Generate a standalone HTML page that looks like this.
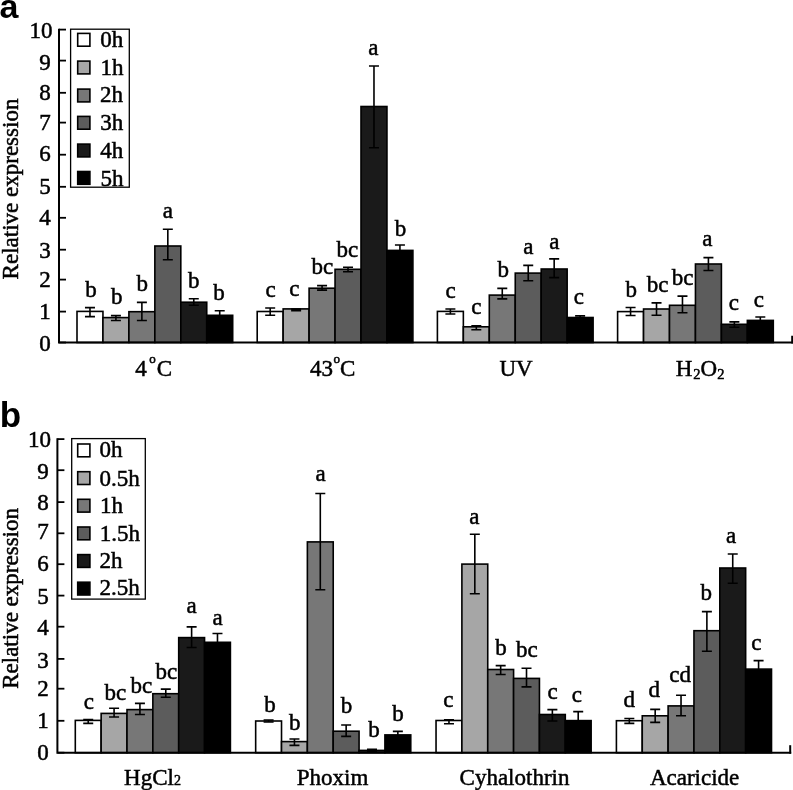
<!DOCTYPE html>
<html><head><meta charset="utf-8"><style>
html,body{margin:0;padding:0;background:#fff;overflow:hidden;}
svg{display:block;will-change:transform;}
text{font-family:"Liberation Serif",serif;fill:#000;stroke:#000;stroke-width:0.5px;font-size:23px;}
.yl{font-size:23px;}
.pl{font-family:"Liberation Sans",sans-serif;font-weight:bold;font-size:34px;stroke:none;}
</style></head><body>
<svg width="793" height="790" viewBox="0 0 793 790">
<rect x="77" y="311.4" width="25.95" height="31.1" fill="#ffffff" stroke="#000" stroke-width="1.6"/>
<rect x="102.95" y="317.6" width="25.95" height="24.9" fill="#a6a6a6" stroke="#000" stroke-width="1.6"/>
<rect x="128.9" y="311.7" width="25.95" height="30.8" fill="#777777" stroke="#000" stroke-width="1.6"/>
<rect x="154.85" y="246" width="25.95" height="96.5" fill="#5c5c5c" stroke="#000" stroke-width="1.6"/>
<rect x="180.8" y="302.2" width="25.95" height="40.3" fill="#1a1a1a" stroke="#000" stroke-width="1.6"/>
<rect x="206.75" y="315.3" width="25.95" height="27.2" fill="#000000" stroke="#000" stroke-width="1.6"/>
<rect x="257.2" y="311.5" width="25.95" height="31" fill="#ffffff" stroke="#000" stroke-width="1.6"/>
<rect x="283.15" y="308.9" width="25.95" height="33.6" fill="#a6a6a6" stroke="#000" stroke-width="1.6"/>
<rect x="309.1" y="288.2" width="25.95" height="54.3" fill="#777777" stroke="#000" stroke-width="1.6"/>
<rect x="335.05" y="269.3" width="25.95" height="73.2" fill="#5c5c5c" stroke="#000" stroke-width="1.6"/>
<rect x="361" y="106.5" width="25.95" height="236" fill="#1a1a1a" stroke="#000" stroke-width="1.6"/>
<rect x="386.95" y="250.4" width="25.95" height="92.1" fill="#000000" stroke="#000" stroke-width="1.6"/>
<rect x="437.4" y="311.4" width="25.95" height="31.1" fill="#ffffff" stroke="#000" stroke-width="1.6"/>
<rect x="463.35" y="326.8" width="25.95" height="15.7" fill="#a6a6a6" stroke="#000" stroke-width="1.6"/>
<rect x="489.3" y="295.1" width="25.95" height="47.4" fill="#777777" stroke="#000" stroke-width="1.6"/>
<rect x="515.25" y="273.1" width="25.95" height="69.4" fill="#5c5c5c" stroke="#000" stroke-width="1.6"/>
<rect x="541.2" y="269" width="25.95" height="73.5" fill="#1a1a1a" stroke="#000" stroke-width="1.6"/>
<rect x="567.15" y="317.5" width="25.95" height="25" fill="#000000" stroke="#000" stroke-width="1.6"/>
<rect x="617.6" y="311.6" width="25.95" height="30.9" fill="#ffffff" stroke="#000" stroke-width="1.6"/>
<rect x="643.55" y="309" width="25.95" height="33.5" fill="#a6a6a6" stroke="#000" stroke-width="1.6"/>
<rect x="669.5" y="305.3" width="25.95" height="37.2" fill="#777777" stroke="#000" stroke-width="1.6"/>
<rect x="695.45" y="264" width="25.95" height="78.5" fill="#5c5c5c" stroke="#000" stroke-width="1.6"/>
<rect x="721.4" y="324.3" width="25.95" height="18.2" fill="#1a1a1a" stroke="#000" stroke-width="1.6"/>
<rect x="747.35" y="320.4" width="25.95" height="22.1" fill="#000000" stroke="#000" stroke-width="1.6"/>
<path d="M89.97 307.6V316.6M84.97 307.6H94.97M84.97 316.6H94.97" stroke="#000" stroke-width="1.6" fill="none"/>
<text x="85.22" y="297.35" class="lb">b</text>
<path d="M115.92 315.6V320.5M110.92 315.6H120.92M110.92 320.5H120.92" stroke="#000" stroke-width="1.6" fill="none"/>
<text x="110.92" y="303.95" class="lb">b</text>
<path d="M141.88 302.4V320.5M136.88 302.4H146.88M136.88 320.5H146.88" stroke="#000" stroke-width="1.6" fill="none"/>
<text x="136.42" y="291.35" class="lb">b</text>
<path d="M167.82 229.2V259.8M162.82 229.2H172.82M162.82 259.8H172.82" stroke="#000" stroke-width="1.6" fill="none"/>
<text x="162.68" y="217.65" class="lb">a</text>
<path d="M193.78 298.7V305.2M188.78 298.7H198.78M188.78 305.2H198.78" stroke="#000" stroke-width="1.6" fill="none"/>
<text x="188.02" y="288.45" class="lb">b</text>
<path d="M219.72 310.8V320M214.72 310.8H224.72M214.72 320H224.72" stroke="#000" stroke-width="1.6" fill="none"/>
<text x="213.32" y="300.25" class="lb">b</text>
<path d="M270.18 308V315.3M265.18 308H275.18M265.18 315.3H275.18" stroke="#000" stroke-width="1.6" fill="none"/>
<text x="265.55" y="297.05" class="lb">c</text>
<path d="M296.12 309V310.6M291.12 309H301.12M291.12 310.6H301.12" stroke="#000" stroke-width="1.6" fill="none"/>
<text x="289.35" y="296.25" class="lb">c</text>
<path d="M322.07 285.6V290.1M317.07 285.6H327.07M317.07 290.1H327.07" stroke="#000" stroke-width="1.6" fill="none"/>
<text x="311.42" y="274.35" class="lb">bc</text>
<path d="M348.02 267.2V271.8M343.02 267.2H353.02M343.02 271.8H353.02" stroke="#000" stroke-width="1.6" fill="none"/>
<text x="336.42" y="256.85" class="lb">bc</text>
<path d="M373.98 66V147.8M368.98 66H378.98M368.98 147.8H378.98" stroke="#000" stroke-width="1.6" fill="none"/>
<text x="368.28" y="55.45" class="lb">a</text>
<path d="M399.93 245V256M394.93 245H404.93M394.93 256H404.93" stroke="#000" stroke-width="1.6" fill="none"/>
<text x="394.72" y="236.05" class="lb">b</text>
<path d="M450.38 309V314M445.38 309H455.38M445.38 314H455.38" stroke="#000" stroke-width="1.6" fill="none"/>
<text x="445.55" y="297.55" class="lb">c</text>
<path d="M476.32 325.9V329.7M471.32 325.9H481.32M471.32 329.7H481.32" stroke="#000" stroke-width="1.6" fill="none"/>
<text x="471.35" y="314.15" class="lb">c</text>
<path d="M502.27 288.4V298.9M497.27 288.4H507.27M497.27 298.9H507.27" stroke="#000" stroke-width="1.6" fill="none"/>
<text x="497.62" y="277.05" class="lb">b</text>
<path d="M528.23 265.4V280.7M523.23 265.4H533.23M523.23 280.7H533.23" stroke="#000" stroke-width="1.6" fill="none"/>
<text x="523.28" y="254.25" class="lb">a</text>
<path d="M554.17 258.9V277.6M549.17 258.9H559.17M549.17 277.6H559.17" stroke="#000" stroke-width="1.6" fill="none"/>
<text x="549.28" y="248.85" class="lb">a</text>
<path d="M580.12 315.9V320M575.12 315.9H585.12M575.12 320H585.12" stroke="#000" stroke-width="1.6" fill="none"/>
<text x="573.75" y="304.05" class="lb">c</text>
<path d="M630.57 307.5V315.5M625.57 307.5H635.57M625.57 315.5H635.57" stroke="#000" stroke-width="1.6" fill="none"/>
<text x="625.62" y="297.15" class="lb">b</text>
<path d="M656.52 302.9V315.3M651.52 302.9H661.52M651.52 315.3H661.52" stroke="#000" stroke-width="1.6" fill="none"/>
<text x="646.82" y="291.95" class="lb">bc</text>
<path d="M682.47 296.1V312.7M677.47 296.1H687.47M677.47 312.7H687.47" stroke="#000" stroke-width="1.6" fill="none"/>
<text x="671.82" y="285.35" class="lb">bc</text>
<path d="M708.42 257.6V270.5M703.42 257.6H713.42M703.42 270.5H713.42" stroke="#000" stroke-width="1.6" fill="none"/>
<text x="702.18" y="245.85" class="lb">a</text>
<path d="M734.37 321.9V327.3M729.37 321.9H739.37M729.37 327.3H739.37" stroke="#000" stroke-width="1.6" fill="none"/>
<text x="728.65" y="310.05" class="lb">c</text>
<path d="M760.32 317V324M755.32 317H765.32M755.32 324H765.32" stroke="#000" stroke-width="1.6" fill="none"/>
<text x="753.75" y="307.15" class="lb">c</text>
<path d="M59 28.7V342.5H794" stroke="#000" stroke-width="2" fill="none"/>
<path d="M792.2 335.7V343.5" stroke="#000" stroke-width="2" fill="none"/>
<path d="M59 342.5H66" stroke="#000" stroke-width="1.8"/>
<text x="50.75" y="350.95" text-anchor="end" class="tk">0</text>
<path d="M59 311.6H66" stroke="#000" stroke-width="1.8"/>
<text x="50.75" y="318.55" text-anchor="end" class="tk">1</text>
<path d="M59 279.6H66" stroke="#000" stroke-width="1.8"/>
<text x="50.75" y="286.55" text-anchor="end" class="tk">2</text>
<path d="M59 249.7H66" stroke="#000" stroke-width="1.8"/>
<text x="50.75" y="258.2" text-anchor="end" class="tk">3</text>
<path d="M59 217.8H66" stroke="#000" stroke-width="1.8"/>
<text x="50.75" y="225.1" text-anchor="end" class="tk">4</text>
<path d="M59 186.8H66" stroke="#000" stroke-width="1.8"/>
<text x="50.75" y="194.1" text-anchor="end" class="tk">5</text>
<path d="M59 154.7H66" stroke="#000" stroke-width="1.8"/>
<text x="50.75" y="161.2" text-anchor="end" class="tk">6</text>
<path d="M59 122.6H66" stroke="#000" stroke-width="1.8"/>
<text x="50.75" y="129.55" text-anchor="end" class="tk">7</text>
<path d="M59 92.8H66" stroke="#000" stroke-width="1.8"/>
<text x="50.75" y="100.45" text-anchor="end" class="tk">8</text>
<path d="M59 60.6H66" stroke="#000" stroke-width="1.8"/>
<text x="50.75" y="69.65" text-anchor="end" class="tk">9</text>
<path d="M59 29.6H66" stroke="#000" stroke-width="1.8"/>
<text x="29.52" y="37.6" class="tk">10</text>
<rect x="75.3" y="720.4" width="25.85" height="32.3" fill="#ffffff" stroke="#000" stroke-width="1.6"/>
<rect x="101.15" y="713.4" width="25.85" height="39.3" fill="#a6a6a6" stroke="#000" stroke-width="1.6"/>
<rect x="127" y="709.6" width="25.85" height="43.1" fill="#777777" stroke="#000" stroke-width="1.6"/>
<rect x="152.85" y="693.7" width="25.85" height="59" fill="#5c5c5c" stroke="#000" stroke-width="1.6"/>
<rect x="178.7" y="637.6" width="25.85" height="115.1" fill="#1a1a1a" stroke="#000" stroke-width="1.6"/>
<rect x="204.55" y="642.3" width="25.85" height="110.4" fill="#000000" stroke="#000" stroke-width="1.6"/>
<rect x="255.67" y="721" width="25.85" height="31.7" fill="#ffffff" stroke="#000" stroke-width="1.6"/>
<rect x="281.52" y="741.6" width="25.85" height="11.1" fill="#a6a6a6" stroke="#000" stroke-width="1.6"/>
<rect x="307.37" y="541.9" width="25.85" height="210.8" fill="#777777" stroke="#000" stroke-width="1.6"/>
<rect x="333.22" y="731.2" width="25.85" height="21.5" fill="#5c5c5c" stroke="#000" stroke-width="1.6"/>
<rect x="359.07" y="750.4" width="25.85" height="2.3" fill="#1a1a1a" stroke="#000" stroke-width="1.6"/>
<rect x="384.92" y="734.9" width="25.85" height="17.8" fill="#000000" stroke="#000" stroke-width="1.6"/>
<rect x="436.04" y="720.5" width="25.85" height="32.2" fill="#ffffff" stroke="#000" stroke-width="1.6"/>
<rect x="461.89" y="564.1" width="25.85" height="188.6" fill="#a6a6a6" stroke="#000" stroke-width="1.6"/>
<rect x="487.74" y="669.5" width="25.85" height="83.2" fill="#777777" stroke="#000" stroke-width="1.6"/>
<rect x="513.59" y="678.4" width="25.85" height="74.3" fill="#5c5c5c" stroke="#000" stroke-width="1.6"/>
<rect x="539.44" y="714.5" width="25.85" height="38.2" fill="#1a1a1a" stroke="#000" stroke-width="1.6"/>
<rect x="565.29" y="720.6" width="25.85" height="32.1" fill="#000000" stroke="#000" stroke-width="1.6"/>
<rect x="616.41" y="720.7" width="25.85" height="32" fill="#ffffff" stroke="#000" stroke-width="1.6"/>
<rect x="642.26" y="715.8" width="25.85" height="36.9" fill="#a6a6a6" stroke="#000" stroke-width="1.6"/>
<rect x="668.11" y="705.9" width="25.85" height="46.8" fill="#777777" stroke="#000" stroke-width="1.6"/>
<rect x="693.96" y="630.7" width="25.85" height="122" fill="#5c5c5c" stroke="#000" stroke-width="1.6"/>
<rect x="719.81" y="568" width="25.85" height="184.7" fill="#1a1a1a" stroke="#000" stroke-width="1.6"/>
<rect x="745.66" y="669.1" width="25.85" height="83.6" fill="#000000" stroke="#000" stroke-width="1.6"/>
<path d="M88.22 719.6V723.4M83.22 719.6H93.22M83.22 723.4H93.22" stroke="#000" stroke-width="1.6" fill="none"/>
<text x="83.85" y="709.25" class="lb">c</text>
<path d="M114.08 708.2V717M109.08 708.2H119.08M109.08 717H119.08" stroke="#000" stroke-width="1.6" fill="none"/>
<text x="104.62" y="700.25" class="lb">bc</text>
<path d="M139.93 703.4V714.5M134.93 703.4H144.93M134.93 714.5H144.93" stroke="#000" stroke-width="1.6" fill="none"/>
<text x="130.42" y="692.95" class="lb">bc</text>
<path d="M165.78 689.1V697.3M160.78 689.1H170.78M160.78 697.3H170.78" stroke="#000" stroke-width="1.6" fill="none"/>
<text x="155.42" y="679.05" class="lb">bc</text>
<path d="M191.62 626.9V647.5M186.62 626.9H196.62M186.62 647.5H196.62" stroke="#000" stroke-width="1.6" fill="none"/>
<text x="186.58" y="613.25" class="lb">a</text>
<path d="M217.48 633.5V651M212.48 633.5H222.48M212.48 651H222.48" stroke="#000" stroke-width="1.6" fill="none"/>
<text x="212.48" y="625.45" class="lb">a</text>
<path d="M268.6 720V722M263.6 720H273.6M263.6 722H273.6" stroke="#000" stroke-width="1.6" fill="none"/>
<text x="264.22" y="712.25" class="lb">b</text>
<path d="M294.45 739V745.4M289.45 739H299.45M289.45 745.4H299.45" stroke="#000" stroke-width="1.6" fill="none"/>
<text x="288.92" y="730.25" class="lb">b</text>
<path d="M320.3 493.5V589.7M315.3 493.5H325.3M315.3 589.7H325.3" stroke="#000" stroke-width="1.6" fill="none"/>
<text x="315.48" y="481.35" class="lb">a</text>
<path d="M346.15 725V736.4M341.15 725H351.15M341.15 736.4H351.15" stroke="#000" stroke-width="1.6" fill="none"/>
<text x="340.72" y="713.05" class="lb">b</text>
<path d="M372 749.3V751.5M367 749.3H377M367 751.5H377" stroke="#000" stroke-width="1.6" fill="none"/>
<text x="368.22" y="736.55" class="lb">b</text>
<path d="M397.85 731.4V738M392.85 731.4H402.85M392.85 738H402.85" stroke="#000" stroke-width="1.6" fill="none"/>
<text x="392.22" y="720.95" class="lb">b</text>
<path d="M448.97 719.9V723.7M443.97 719.9H453.97M443.97 723.7H453.97" stroke="#000" stroke-width="1.6" fill="none"/>
<text x="443.35" y="707.45" class="lb">c</text>
<path d="M474.82 534.3V593.7M469.82 534.3H479.82M469.82 593.7H479.82" stroke="#000" stroke-width="1.6" fill="none"/>
<text x="469.18" y="523.85" class="lb">a</text>
<path d="M500.67 665.6V674.5M495.67 665.6H505.67M495.67 674.5H505.67" stroke="#000" stroke-width="1.6" fill="none"/>
<text x="495.22" y="654.95" class="lb">b</text>
<path d="M526.51 668.2V686.9M521.51 668.2H531.51M521.51 686.9H531.51" stroke="#000" stroke-width="1.6" fill="none"/>
<text x="516.02" y="657.05" class="lb">bc</text>
<path d="M552.37 709.6V721M547.37 709.6H557.37M547.37 721H557.37" stroke="#000" stroke-width="1.6" fill="none"/>
<text x="547.45" y="699.35" class="lb">c</text>
<path d="M578.21 711.6V729M573.21 711.6H583.21M573.21 729H583.21" stroke="#000" stroke-width="1.6" fill="none"/>
<text x="571.85" y="701.75" class="lb">c</text>
<path d="M629.33 718.5V723.4M624.33 718.5H634.33M624.33 723.4H634.33" stroke="#000" stroke-width="1.6" fill="none"/>
<text x="623.48" y="707.25" class="lb">d</text>
<path d="M655.18 709.4V722.4M650.18 709.4H660.18M650.18 722.4H660.18" stroke="#000" stroke-width="1.6" fill="none"/>
<text x="648.48" y="697.15" class="lb">d</text>
<path d="M681.03 695.3V715.8M676.03 695.3H686.03M676.03 715.8H686.03" stroke="#000" stroke-width="1.6" fill="none"/>
<text x="669.25" y="682.35" class="lb">cd</text>
<path d="M706.88 611.6V651.3M701.88 611.6H711.88M701.88 651.3H711.88" stroke="#000" stroke-width="1.6" fill="none"/>
<text x="700.62" y="600.05" class="lb">b</text>
<path d="M732.73 554V583.3M727.73 554H737.73M727.73 583.3H737.73" stroke="#000" stroke-width="1.6" fill="none"/>
<text x="726.08" y="543.25" class="lb">a</text>
<path d="M758.58 660.6V678M753.58 660.6H763.58M753.58 678H763.58" stroke="#000" stroke-width="1.6" fill="none"/>
<text x="751.35" y="649.75" class="lb">c</text>
<path d="M57.4 438.2V752.7H791.2" stroke="#000" stroke-width="2" fill="none"/>
<path d="M790.2 745.2V753.7" stroke="#000" stroke-width="2" fill="none"/>
<path d="M57.4 752.7H64.4" stroke="#000" stroke-width="1.8"/>
<text x="48.85" y="760.25" text-anchor="end" class="tk">0</text>
<path d="M57.4 720.8H64.4" stroke="#000" stroke-width="1.8"/>
<text x="48.85" y="727.65" text-anchor="end" class="tk">1</text>
<path d="M57.4 688.7H64.4" stroke="#000" stroke-width="1.8"/>
<text x="48.85" y="695.55" text-anchor="end" class="tk">2</text>
<path d="M57.4 658.9H64.4" stroke="#000" stroke-width="1.8"/>
<text x="48.85" y="667.55" text-anchor="end" class="tk">3</text>
<path d="M57.4 626.7H64.4" stroke="#000" stroke-width="1.8"/>
<text x="48.85" y="634.5" text-anchor="end" class="tk">4</text>
<path d="M57.4 595.6H64.4" stroke="#000" stroke-width="1.8"/>
<text x="48.85" y="603.65" text-anchor="end" class="tk">5</text>
<path d="M57.4 564.2H64.4" stroke="#000" stroke-width="1.8"/>
<text x="48.85" y="570.6" text-anchor="end" class="tk">6</text>
<path d="M57.4 533.3H64.4" stroke="#000" stroke-width="1.8"/>
<text x="48.85" y="539.05" text-anchor="end" class="tk">7</text>
<path d="M57.4 502.1H64.4" stroke="#000" stroke-width="1.8"/>
<text x="48.85" y="509.75" text-anchor="end" class="tk">8</text>
<path d="M57.4 470.2H64.4" stroke="#000" stroke-width="1.8"/>
<text x="48.85" y="479.1" text-anchor="end" class="tk">9</text>
<path d="M57.4 439.1H64.4" stroke="#000" stroke-width="1.8"/>
<text x="28.12" y="446.9" class="tk">10</text>
<text x="-0.6" y="17.6" class="pl">a</text>
<text x="-0.3" y="426.6" class="pl" style="font-size:35px">b</text>
<text transform="translate(18,189) rotate(-90)" text-anchor="middle" class="yl">Relative expression</text>
<text transform="translate(18,598.4) rotate(-90)" text-anchor="middle" class="yl">Relative expression</text>
<rect x="70.6" y="29.2" width="58.7" height="158" fill="#fff" stroke="#000" stroke-width="1.3"/>
<rect x="77.7" y="33.4" width="12.2" height="12.8" fill="#ffffff" stroke="#000" stroke-width="1.6"/>
<text x="100.15" y="46.5">0h</text>
<rect x="77.7" y="61.1" width="12.2" height="12.8" fill="#a6a6a6" stroke="#000" stroke-width="1.6"/>
<text x="100.52" y="74.6">1h</text>
<rect x="77.7" y="89.1" width="12.2" height="12.8" fill="#777777" stroke="#000" stroke-width="1.6"/>
<text x="100.02" y="102.2">2h</text>
<rect x="77.7" y="116.4" width="12.2" height="12.8" fill="#5c5c5c" stroke="#000" stroke-width="1.6"/>
<text x="100.22" y="129.8">3h</text>
<rect x="77.7" y="144.1" width="12.2" height="12.8" fill="#1a1a1a" stroke="#000" stroke-width="1.6"/>
<text x="100.25" y="157.8">4h</text>
<rect x="77.7" y="171.5" width="12.2" height="12.8" fill="#000000" stroke="#000" stroke-width="1.6"/>
<text x="100.48" y="185.7">5h</text>
<rect x="71.7" y="438.6" width="73.6" height="160.5" fill="#fff" stroke="#000" stroke-width="1.3"/>
<rect x="77.7" y="444" width="12.2" height="12.8" fill="#ffffff" stroke="#000" stroke-width="1.6"/>
<text x="99.55" y="457.1">0h</text>
<rect x="77.7" y="471.7" width="12.2" height="12.8" fill="#a6a6a6" stroke="#000" stroke-width="1.6"/>
<text x="99.55" y="485.6">0.5h</text>
<rect x="77.7" y="499.3" width="12.2" height="12.8" fill="#777777" stroke="#000" stroke-width="1.6"/>
<text x="100.02" y="513.2">1h</text>
<rect x="77.7" y="527" width="12.2" height="12.8" fill="#5c5c5c" stroke="#000" stroke-width="1.6"/>
<text x="99.82" y="540.7">1.5h</text>
<rect x="77.7" y="554.6" width="12.2" height="12.8" fill="#1a1a1a" stroke="#000" stroke-width="1.6"/>
<text x="99.42" y="568.3">2h</text>
<rect x="77.7" y="582.2" width="12.2" height="12.8" fill="#000000" stroke="#000" stroke-width="1.6"/>
<text x="99.42" y="595.2">2.5h</text>
<text x="155.3" y="375.5" text-anchor="middle"><tspan dx="-1.6">4</tspan><tspan font-size="13" dx="2.6" dy="-13">o</tspan><tspan dx="1" dy="13">C</tspan></text>
<text x="333.6" y="375.5" text-anchor="middle"><tspan dx="-1">43</tspan><tspan font-size="13" dx="0.6" dy="-13">o</tspan><tspan dy="13">C</tspan></text>
<text x="516" y="375.5" text-anchor="middle">UV</text>
<text x="702" y="375.5" text-anchor="middle"><tspan dx="-2">H</tspan><tspan font-size="14.5" dx="1" dy="3">2</tspan><tspan dy="-3">O</tspan><tspan font-size="14.5" dy="3">2</tspan></text>
<text x="152.5" y="785" text-anchor="middle">HgCl<tspan font-size="14">2</tspan></text>
<text x="332.6" y="785" text-anchor="middle">Phoxim</text>
<text x="514.5" y="785" text-anchor="middle">Cyhalothrin</text>
<text x="694.6" y="785" text-anchor="middle">Acaricide</text>
</svg></body></html>
